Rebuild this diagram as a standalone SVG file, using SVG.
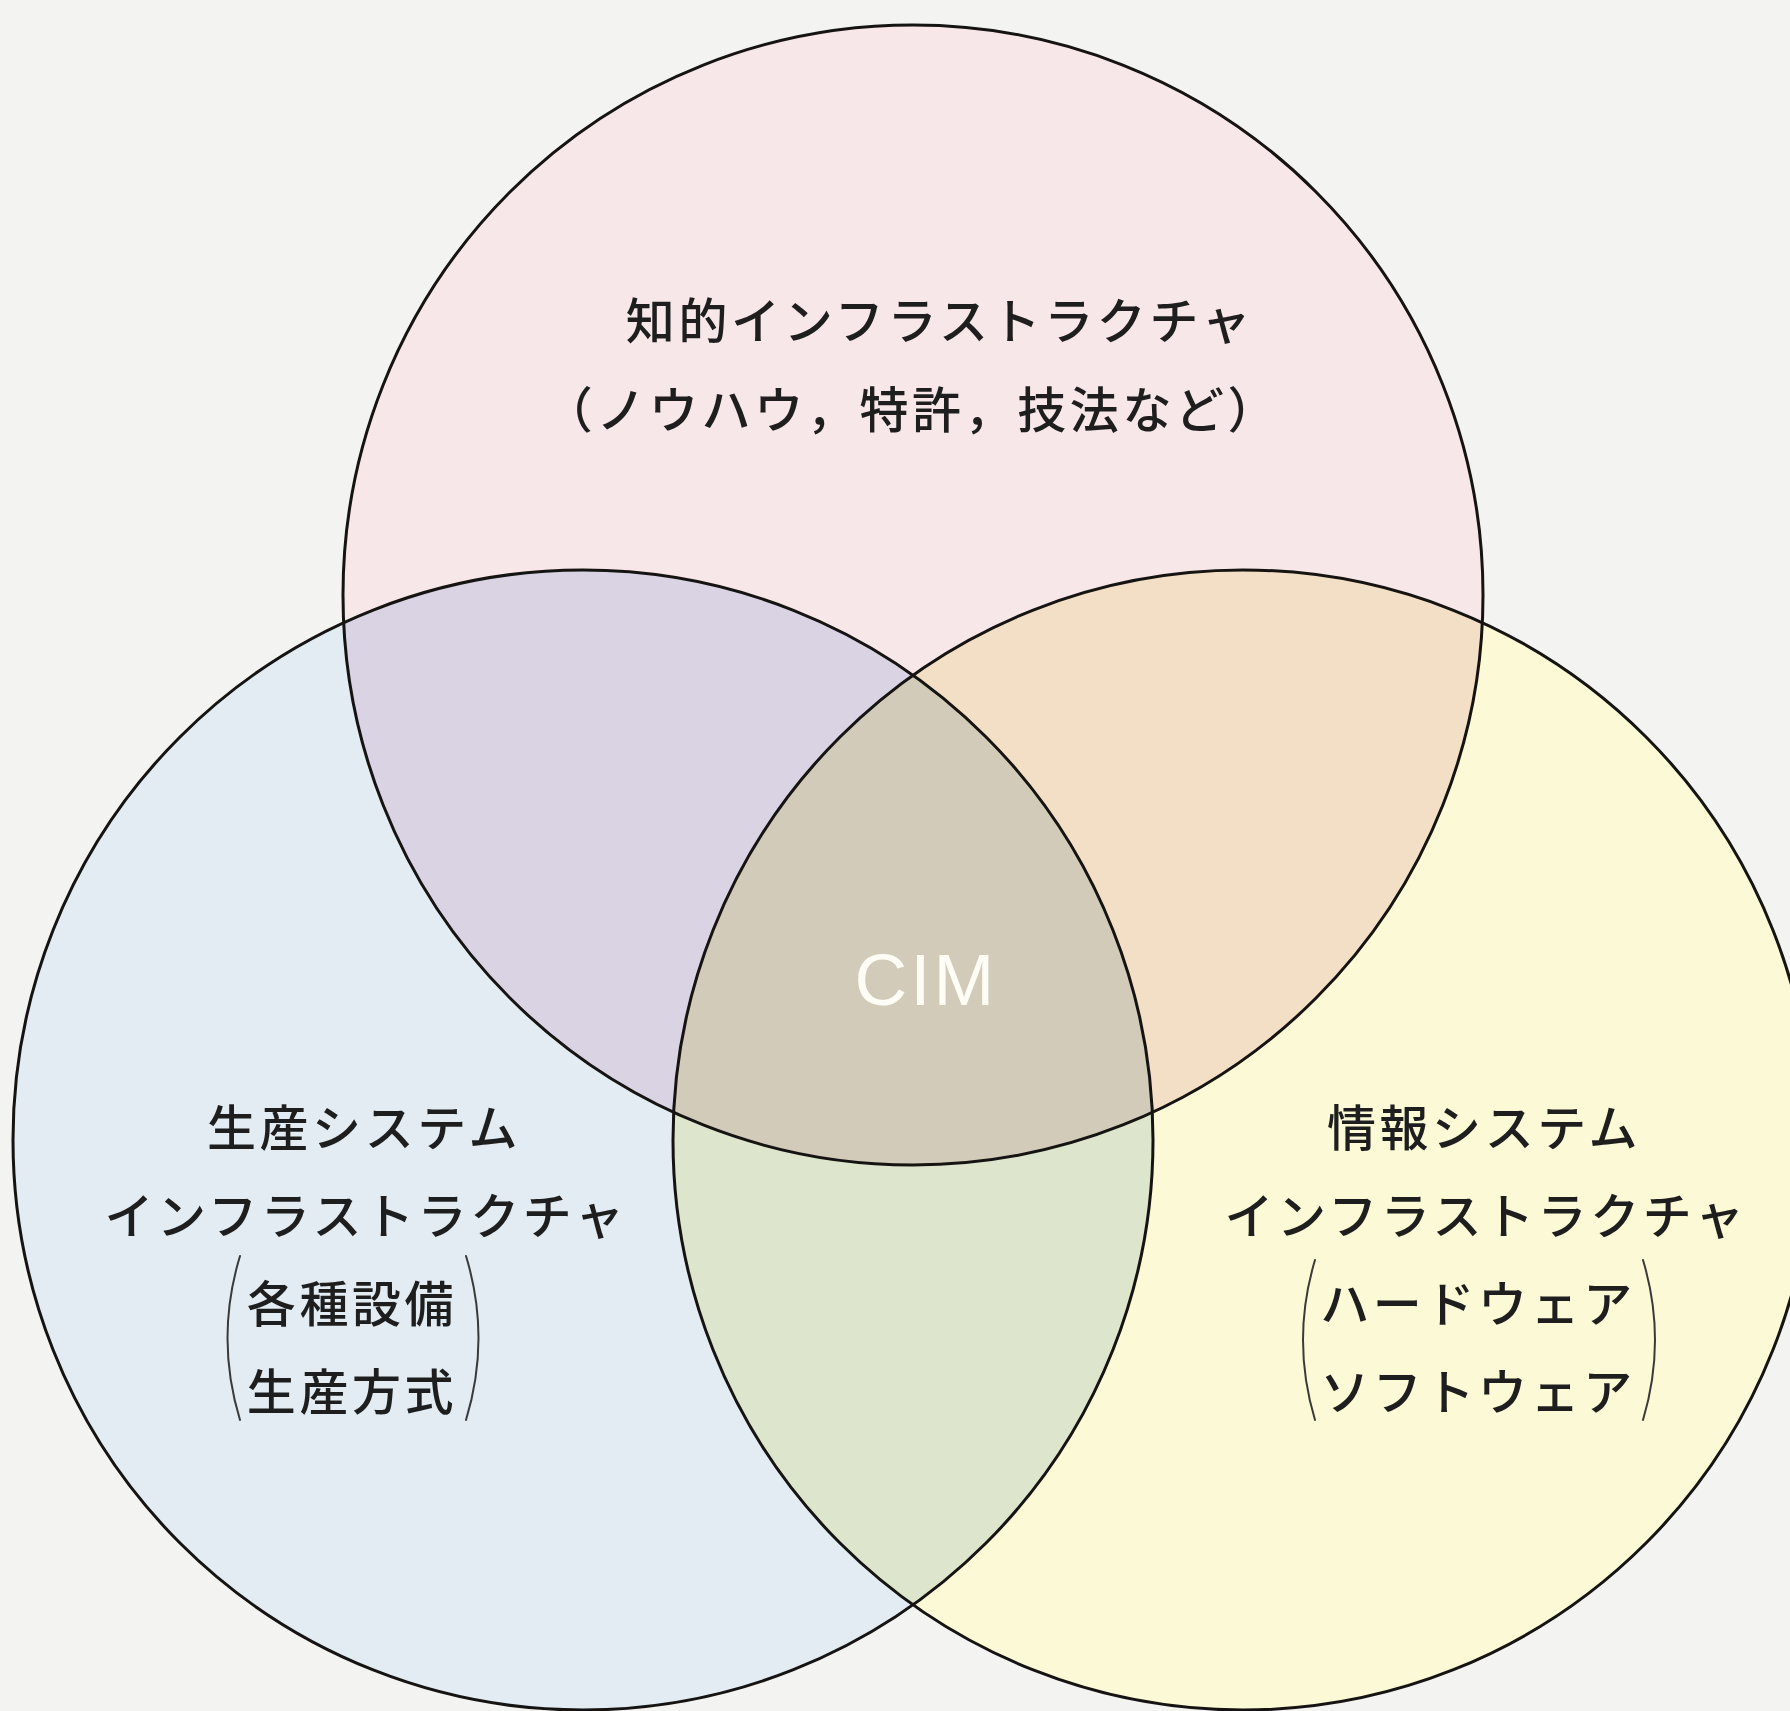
<svg xmlns="http://www.w3.org/2000/svg" width="1790" height="1711" viewBox="0 0 1790 1711">
  <style>
    .jp { font-family: "Noto Sans CJK JP", "Noto Sans CJK SC", sans-serif; font-size: 49px; font-weight: 500; fill: #1e1e1e; letter-spacing: 3.6px; text-anchor: middle; }
    .ring { fill: none; stroke: #161412; stroke-width: 3; }
    .brk { fill: none; stroke: #3a3a3a; stroke-width: 2; stroke-linecap: round; }
    .cim { font-family: "Liberation Sans", Arial, sans-serif; font-size: 73px; fill: #fdfdf6; letter-spacing: 3px; text-anchor: middle; }
  </style>
  <defs>
    <clipPath id="cTop"><circle cx="913" cy="595" r="570"/></clipPath>
    <clipPath id="cLeft"><circle cx="583" cy="1140" r="570"/></clipPath>
    <clipPath id="cRight"><circle cx="1243" cy="1140" r="570"/></clipPath>
  </defs>
  <rect x="0" y="0" width="1790" height="1711" fill="#f3f3f1"/>

  <g id="fills">
    <circle cx="913" cy="595" r="570" fill="#f7e7e9"/>
    <circle cx="583" cy="1140" r="570" fill="#e2ecf2"/>
    <circle cx="1243" cy="1140" r="570" fill="#fcfad6"/>
    <circle cx="583" cy="1140" r="570" fill="#d9d3e4" clip-path="url(#cTop)"/>
    <circle cx="1243" cy="1140" r="570" fill="#f3dfc5" clip-path="url(#cTop)"/>
    <circle cx="1243" cy="1140" r="570" fill="#dde6cd" clip-path="url(#cLeft)"/>
    <g clip-path="url(#cTop)">
      <circle cx="1243" cy="1140" r="570" fill="#d2cbb9" clip-path="url(#cLeft)"/>
    </g>
  </g>

  <g id="node-knowledge">
    <circle class="ring" cx="913" cy="595" r="570"/>
    <text class="jp" x="940" y="339">知的インフラストラクチャ</text>
    <text class="jp" x="912" y="428">（ノウハウ，特許，技法など）</text>
  </g>

  <g id="node-production">
    <circle class="ring" cx="583" cy="1140" r="570"/>
    <text class="jp" x="364" y="1146">生産システム</text>
    <text class="jp" x="366" y="1234">インフラストラクチャ</text>
    <text class="jp" x="352" y="1322">各種設備</text>
    <text class="jp" x="352" y="1410">生産方式</text>
    <path class="brk" d="M240 1256 Q215 1338 240 1420"/>
    <path class="brk" d="M466 1256 Q491 1338 466 1420"/>
  </g>

  <g id="node-information">
    <circle class="ring" cx="1243" cy="1140" r="570"/>
    <text class="jp" x="1484" y="1146">情報システム</text>
    <text class="jp" x="1486" y="1234">インフラストラクチャ</text>
    <text class="jp" x="1478" y="1322">ハードウェア</text>
    <text class="jp" x="1478" y="1410">ソフトウェア</text>
    <path class="brk" d="M1315 1260 Q1291 1340 1315 1420"/>
    <path class="brk" d="M1643 1260 Q1667 1340 1643 1420"/>
  </g>

  <g id="node-cim">
    <text class="cim" x="926" y="1005">CIM</text>
  </g>

  <g id="connectors"></g>
</svg>
